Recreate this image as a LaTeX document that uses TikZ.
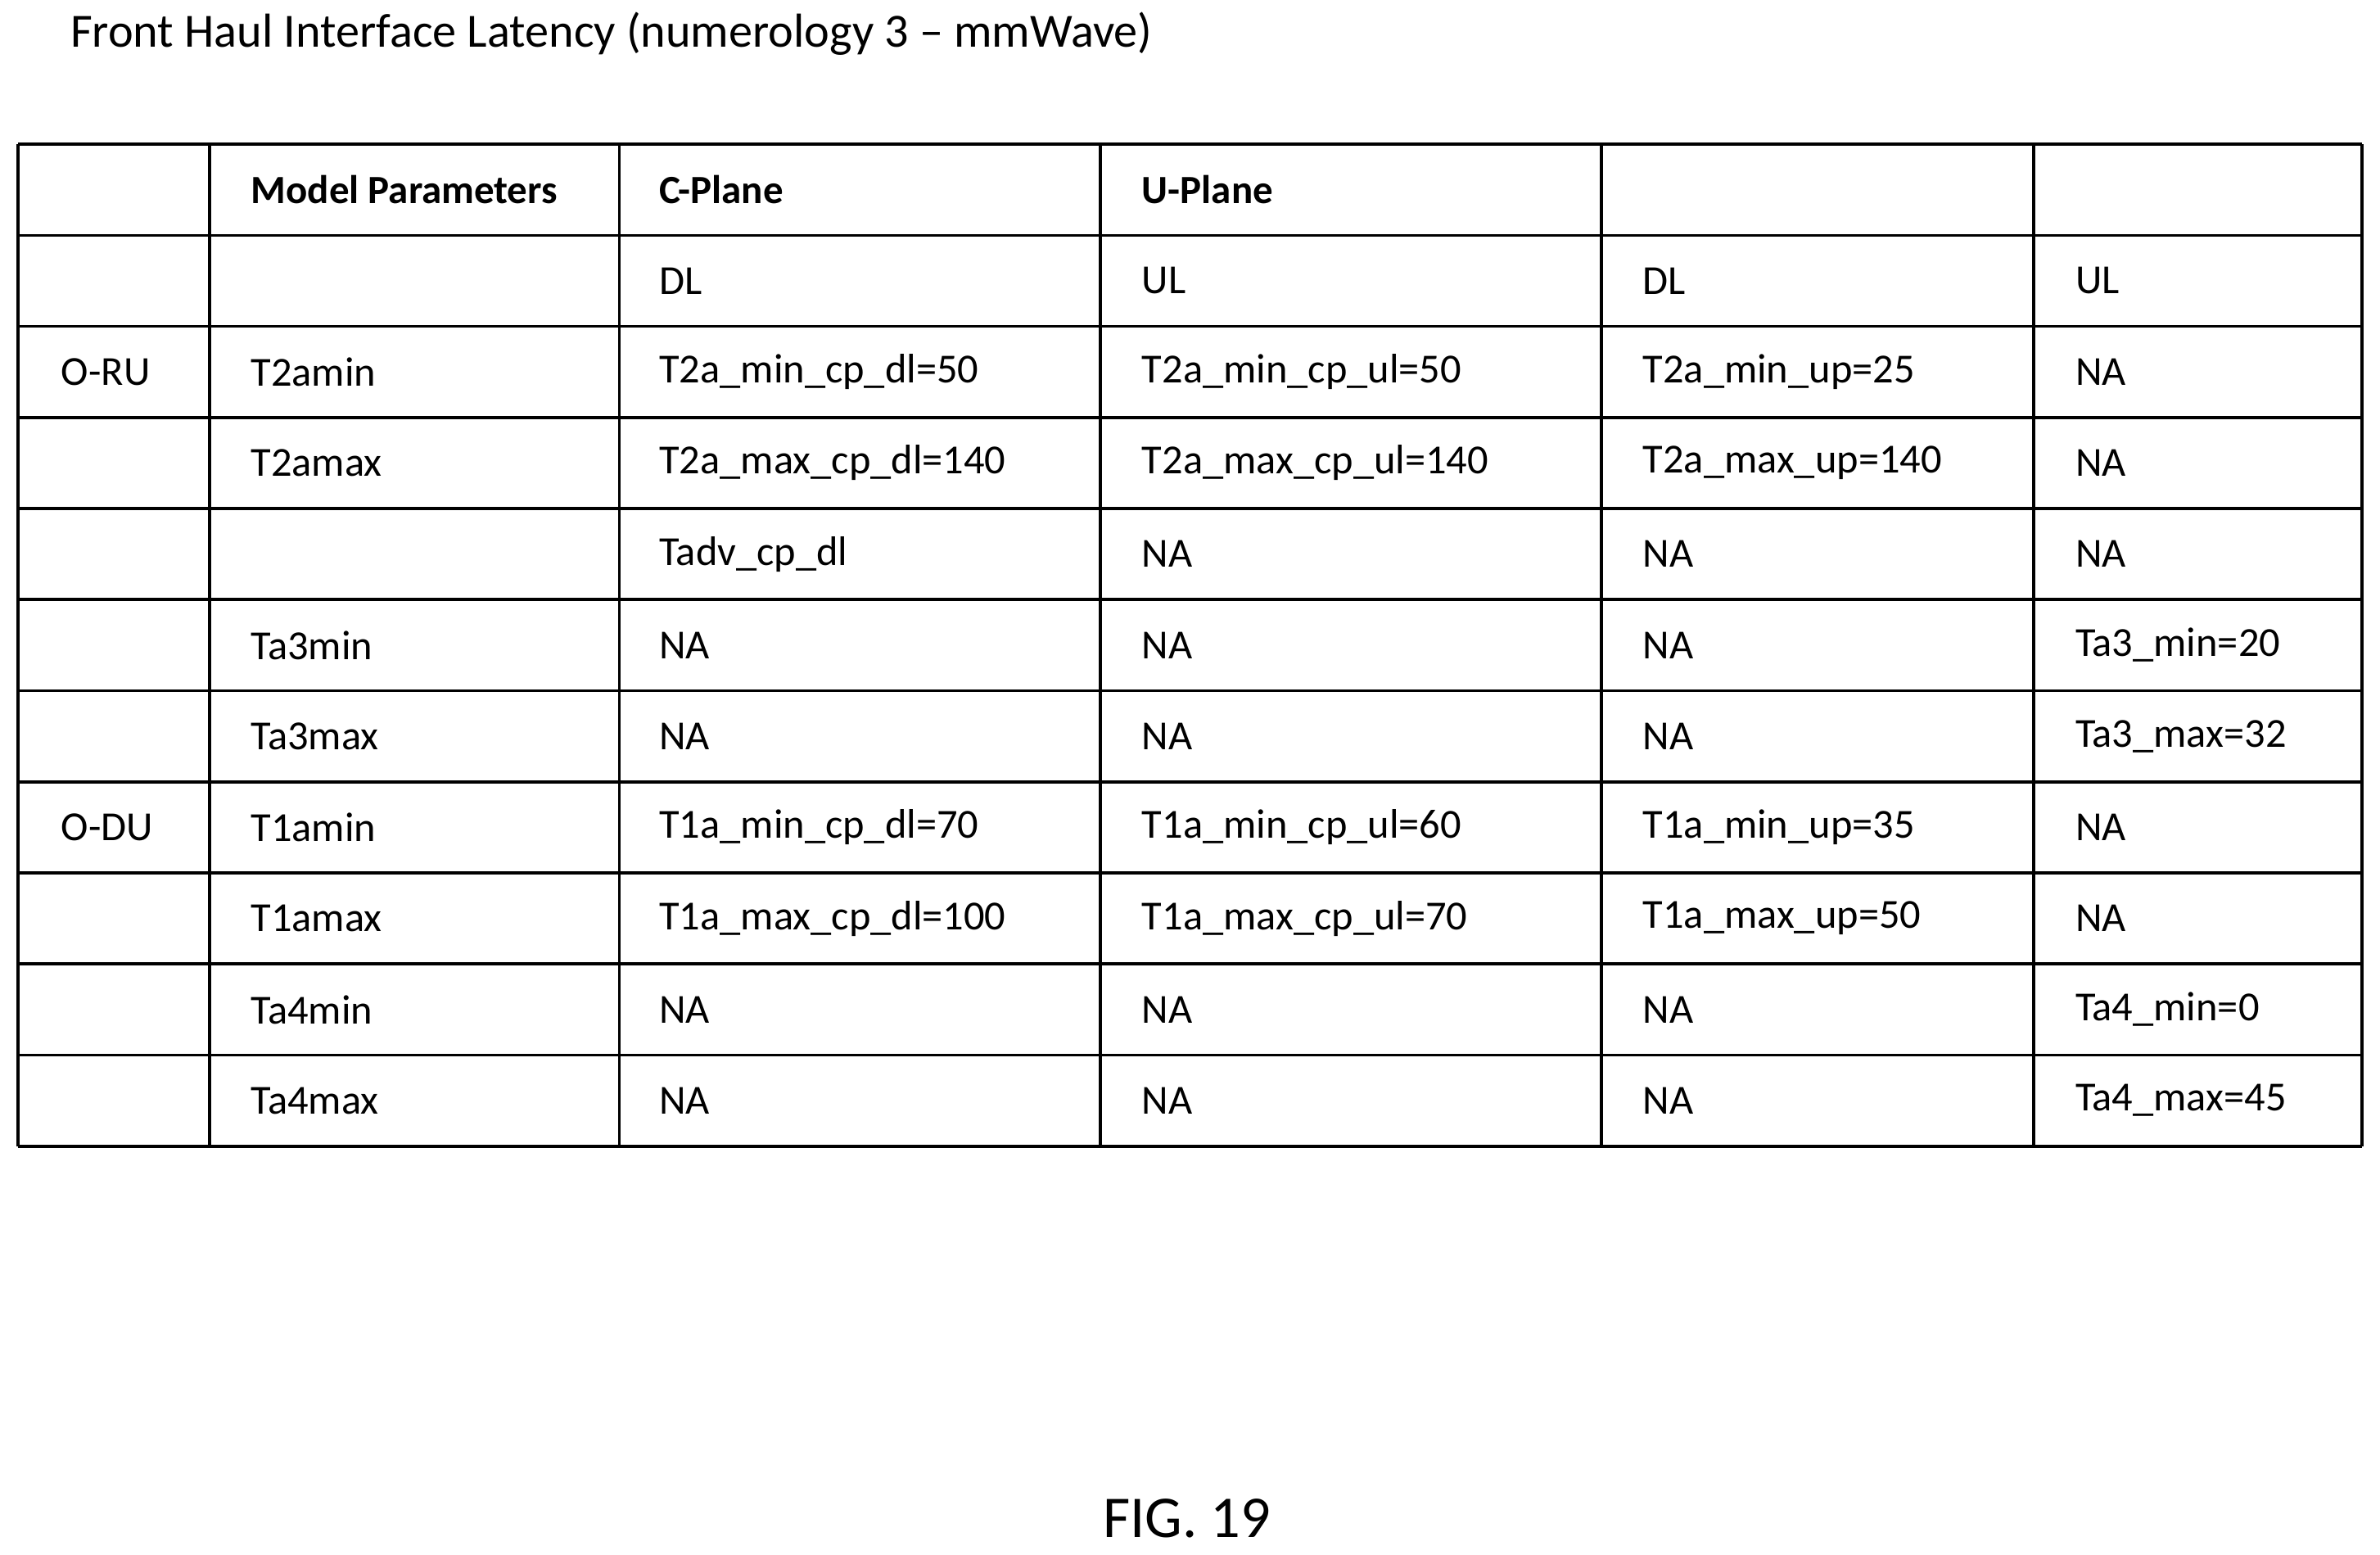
\documentclass[tikz,border=0pt]{standalone}
\usepackage{fontspec}
\setmainfont{Carlito}
\begin{document}
\begin{tikzpicture}[x=0.5pt,y=-0.5pt,
  cell/.style={anchor=west,inner sep=0pt,font=\fontsize{13.6}{15}\selectfont},
  hcell/.style={cell,font=\fontsize{13.2}{15}\selectfont\bfseries}]
\useasboundingbox (0,0) rectangle (1568,1024);
\node[anchor=west,inner sep=0pt,font=\fontsize{15.7}{18}\selectfont] (title) at (46,22) {Front Haul Interface Latency (numerology 3 -- mmWave)};
\def\xs{12,138,408,725,1055,1340,1556}
\foreach \x in \xs {\draw[line width=1pt] (\x,95) -- (\x,755);}
\foreach \y in {95,155,...,755} {\draw[line width=1pt] (12,\y) -- (1556,\y);}
\node[hcell] (h2) at (165,125) {Model Parameters};
\node[hcell] (h3) at (434,125) {C-Plane};
\node[hcell] (h4) at (752,125) {U-Plane};
\foreach \r/\a/\b/\c/\d/\e/\f [count=\i] in {
 1//{}/DL/UL/DL/UL,
 2/O-RU/T2amin/T2a\_min\_cp\_dl=50/T2a\_min\_cp\_ul=50/T2a\_min\_up=25/NA,
 3//T2amax/T2a\_max\_cp\_dl=140/T2a\_max\_cp\_ul=140/T2a\_max\_up=140/NA,
 4//{}/Tadv\_cp\_dl/NA/NA/NA,
 5//Ta3min/NA/NA/NA/Ta3\_min=20,
 6//Ta3max/NA/NA/NA/Ta3\_max=32,
 7/O-DU/T1amin/T1a\_min\_cp\_dl=70/T1a\_min\_cp\_ul=60/T1a\_min\_up=35/NA,
 8//T1amax/T1a\_max\_cp\_dl=100/T1a\_max\_cp\_ul=70/T1a\_max\_up=50/NA,
 9//Ta4min/NA/NA/NA/Ta4\_min=0,
 10//Ta4max/NA/NA/NA/Ta4\_max=45}{
 \pgfmathsetmacro\yy{125+60*\i}
 \node[cell] (a\i) at (40,\yy) {\a};
 \node[cell] (b\i) at (165,\yy) {\b};
 \node[cell] (c\i) at (434,\yy) {\c};
 \node[cell] (d\i) at (752,\yy) {\d};
 \node[cell] (e\i) at (1082,\yy) {\e};
 \node[cell] (f\i) at (1367,\yy) {\f};
}
\node[inner sep=0pt,font=\fontsize{19.5}{22}\selectfont] (fig) at (782,1000) {FIG. 19};
\end{tikzpicture}
\end{document}
